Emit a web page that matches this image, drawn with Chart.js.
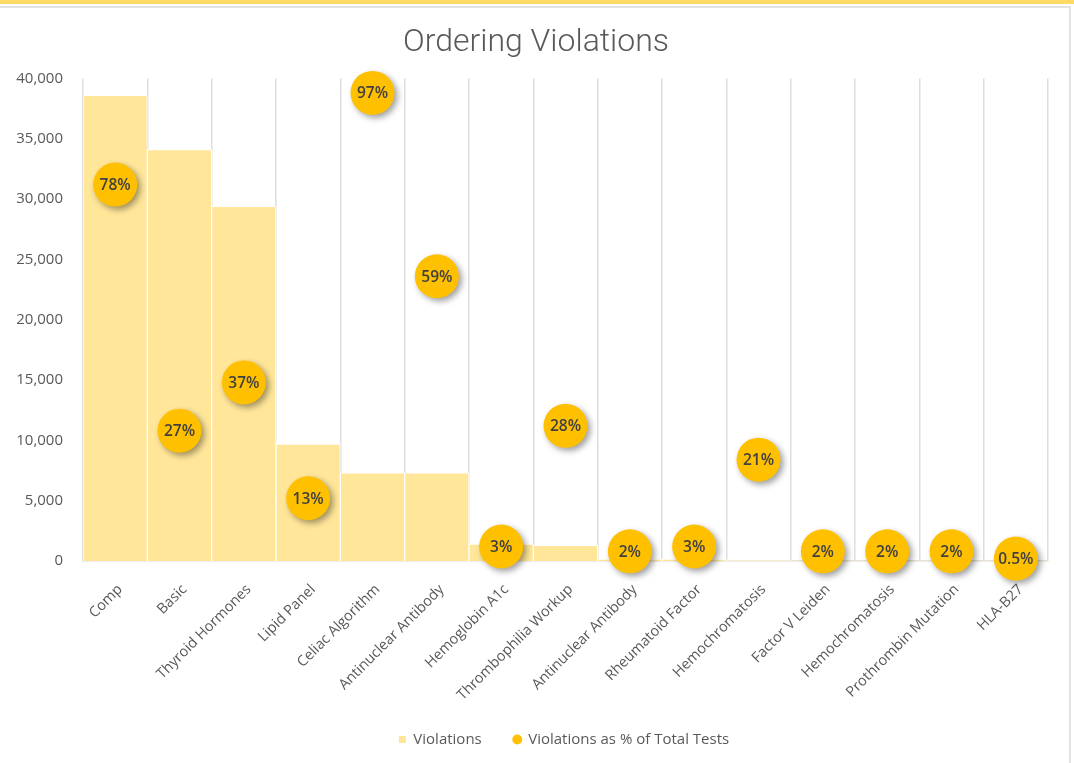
<!DOCTYPE html>
<html>
<head>
<meta charset="utf-8">
<script src="https://cdn.jsdelivr.net/npm/chart.js@4/dist/chart.umd.min.js"></script>
<style>
  html, body { margin: 0; padding: 0; background: #ffffff; }
  #wrap { position: relative; width: 1074px; height: 763px; overflow: hidden; }
  #band { position: absolute; left: 0; top: 0; width: 1074px; height: 4px; background: #FFD966; }
  #frame { position: absolute; left: -2px; top: 6px; width: 1073px; height: 770px;
           border-top: 2px solid #e3e3e3; border-right: 2px solid #e3e3e3; box-sizing: border-box; }
  #c { position: absolute; left: 0; top: 0; }
</style>
</head>
<body>
<div id="wrap">
  <div id="band"></div>
  <div id="frame"></div>
  <canvas id="c" width="1074" height="763"></canvas>
</div>
<script>
// Lab test categories
const categories = [
  "Comp", "Basic", "Thyroid Hormones", "Lipid Panel", "Celiac Algorithm",
  "Antinuclear Antibody", "Hemoglobin A1c", "Thrombophilia Workup",
  "Antinuclear Antibody", "Rheumatoid Factor", "Hemochromatosis",
  "Factor V Leiden", "Hemochromatosis", "Prothrombin Mutation", "HLA-B27"
];
// Number of ordering violations per test
const violations = [
  38600, 34100, 29400, 9700, 7300,
  7300, 1400, 1300, 150, 150,
  30, 20, 20, 20, 10
];
// Violations as a share of all tests ordered
const violationShare = [
  0.78, 0.27, 0.37, 0.13, 0.97,
  0.59, 0.03, 0.28, 0.02, 0.03,
  0.21, 0.02, 0.02, 0.02, 0.005
];
// Left axis ticks
const countTicks = [0, 5000, 10000, 15000, 20000, 25000, 30000, 35000, 40000];

const TEXT = "#595959";
const FONT = "'Open Sans', 'Noto Sans', sans-serif";

function pctLabel(v) {
  const p = Math.round(v * 1000) / 10;
  return (Number.isInteger(p) ? p.toFixed(0) : p.toFixed(1)) + "%";
}

// Soft drop shadow under the bubble markers
const bubbleShadow = {
  id: "bubbleShadow",
  beforeDatasetDraw(chart, args) {
    if (args.index !== 1) return;
    const ctx = chart.ctx;
    ctx.save();
    ctx.shadowColor = "rgba(0,0,0,0.38)";
    ctx.shadowBlur = 6;
    ctx.shadowOffsetX = 3;
    ctx.shadowOffsetY = 3;
  },
  afterDatasetDraw(chart, args) {
    if (args.index !== 1) return;
    chart.ctx.restore();
  }
};

// Percentage text inside each bubble
const bubbleText = {
  id: "bubbleText",
  afterDatasetsDraw(chart) {
    const meta = chart.getDatasetMeta(1);
    const ctx = chart.ctx;
    ctx.save();
    ctx.font = "600 15.5px " + FONT;
    ctx.fillStyle = "#404040";
    ctx.textAlign = "center";
    ctx.textBaseline = "middle";
    meta.data.forEach((pt, i) => {
      ctx.fillText(pctLabel(violationShare[i]), pt.x, pt.y + 1);
    });
    ctx.restore();
  }
};

// Nudge the title and legend blocks to the right of the plot centre
const blockShift = {
  id: "blockShift",
  afterLayout(chart) {
    if (chart.legend) {
      chart.legend.left += 80;
    }
    if (chart.titleBlock) {
      chart.titleBlock.left += 24;
    }
  }
};

new Chart(document.getElementById("c"), {
  data: {
    labels: categories,
    datasets: [
      {
        type: "bar",
        label: "Violations",
        data: violations,
        yAxisID: "y",
        order: 1,
        backgroundColor: "#FFE699",
        borderColor: "#ffffff",
        borderWidth: 1,
        borderSkipped: "bottom",
        categoryPercentage: 1.0,
        barPercentage: 1.0
      },
      {
        type: "line",
        label: "Violations as % of Total Tests",
        data: violationShare,
        yAxisID: "y1",
        order: 0,
        showLine: false,
        clip: false,
        pointStyle: "circle",
        pointRadius: 22,
        pointHoverRadius: 22,
        pointBackgroundColor: "#FFC000",
        pointBorderColor: "#FFC000",
        pointBorderWidth: 0,
        backgroundColor: "#FFC000",
        borderColor: "#FFC000"
      }
    ]
  },
  options: {
    responsive: false,
    animation: false,
    events: [],
    layout: { padding: { top: 8, left: 0, right: 26, bottom: 6 } },
    plugins: {
      title: {
        display: true,
        text: "Ordering Violations",
        color: TEXT,
        font: { family: "Roboto, " + FONT, size: 32, weight: "300" },
        padding: { top: 16, bottom: 16 }
      },
      legend: {
        position: "bottom",
        labels: {
          usePointStyle: true,
          boxHeight: 7,
          boxWidth: 7,
          padding: 32,
          color: TEXT,
          font: { family: FONT, size: 15 },
          sort: (a, b) => a.datasetIndex - b.datasetIndex,
          generateLabels(chart) {
            const items = Chart.defaults.plugins.legend.labels.generateLabels(chart);
            items.forEach(it => {
              if (it.datasetIndex === 0) { it.pointStyle = "rect"; it.fillStyle = "#FFE699"; it.strokeStyle = "#FFE699"; }
              else { it.pointStyle = "circle"; it.fillStyle = "#FFC000"; it.strokeStyle = "#FFC000"; }
              it.lineWidth = 0;
            });
            return items;
          }
        }
      },
      tooltip: { enabled: false }
    },
    scales: {
      x: {
        offset: true,
        grid: { display: true, offset: true, drawTicks: false, color: "#dedede", lineWidth: 1.5 },
        border: { display: true, color: "#d9d9d9", width: 1.5 },
        ticks: {
          color: TEXT,
          font: { family: FONT, size: 14.5 },
          maxRotation: 45,
          minRotation: 45,
          autoSkip: false,
          padding: 20,
          labelOffset: 5
        },
        afterFit(scale) { scale.height = 139; }
      },
      y: {
        position: "left",
        min: 0,
        max: 40000,
        afterBuildTicks(scale) { scale.ticks = countTicks.map(v => ({ value: v })); },
        grid: { display: false },
        border: { display: false },
        ticks: {
          color: TEXT,
          font: { family: FONT, size: 15 },
          padding: 12,
          callback: v => v.toLocaleString("en-US")
        },
        afterFit(scale) { scale.width = 83; }
      },
      y1: {
        position: "right",
        display: false,
        min: 0,
        max: 1
      }
    }
  },
  plugins: [bubbleShadow, bubbleText, blockShift]
});
</script>
</body>
</html>
